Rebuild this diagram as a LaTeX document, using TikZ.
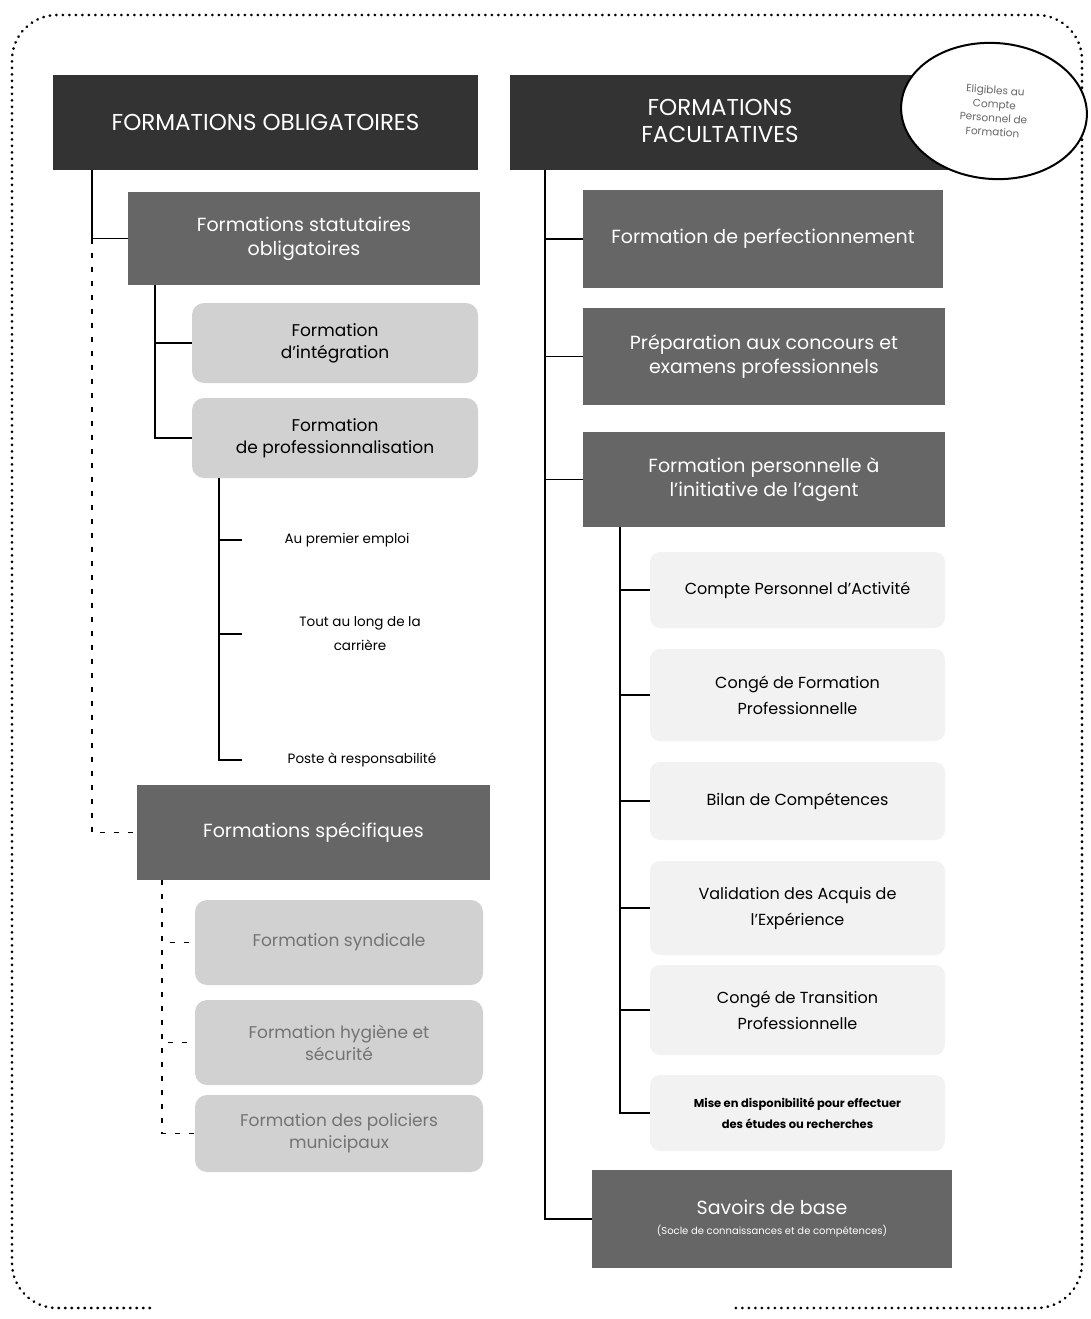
\documentclass[tikz,border=0pt]{standalone}
\usepackage{fontspec}
\setmainfont{Poppins}
\usetikzlibrary{shapes.geometric}
\definecolor{hdrgray}{gray}{0.2}
\definecolor{midgray}{gray}{0.4}
\definecolor{litegray}{gray}{0.82}
\definecolor{faintgray}{gray}{0.95}
\begin{document}
\begin{tikzpicture}[x=1pt,y=-1pt,
  hdr/.style={fill=hdrgray, text=white, align=center, inner sep=0pt, font=\fontsize{23}{27}\selectfont},
  mid/.style={fill=midgray, text=white, align=center, inner sep=0pt, font=\fontsize{19}{24}\selectfont},
  lite/.style={fill=litegray, rounded corners=12pt, align=center, inner sep=0pt, font=\fontsize{17}{22}\selectfont},
  faint/.style={fill=faintgray, rounded corners=10pt, align=center, inner sep=0pt, font=\fontsize{16}{26}\selectfont},
  item/.style={align=center, inner sep=0pt, font=\fontsize{13.5}{24}\selectfont},
  conn/.style={line width=1.8pt},
  dconn/.style={line width=1.6pt, dash pattern=on 5pt off 9pt}]
\useasboundingbox (0,0) rectangle (1091,1319);
% outer dotted frame
\draw[line width=2.6pt, line cap=round, dash pattern=on 0.5pt off 6pt, rounded corners=45pt]
  (150,1308) -- (12,1308) -- (12,15) -- (1082,15) -- (1082,1308) -- (730,1308);

% headers
\node[hdr, minimum width=425pt, minimum height=95pt] (hL) at (265.5,122.5) {FORMATIONS OBLIGATOIRES};
\node[hdr, minimum width=530pt, minimum height=95pt] (hR) at (775,122.5) {};
\node[hdr, text=white] (hRt) at (720,121) {FORMATIONS\\FACULTATIVES};
\node[ellipse, draw, fill=white, line width=2pt, minimum width=186pt, minimum height=136pt,
  inner sep=0pt, rotate=-4, align=center, text=black!60, font=\fontsize{10.5}{14}\selectfont] (elig) at (994,111)
  {Eligibles au\\Compte\\Personnel de\\Formation};

% left column
\node[mid, minimum width=352pt, minimum height=93pt] (stat) at (304,238.5) {Formations statutaires\\obligatoires};
\node[lite, minimum width=286pt, minimum height=80pt] (integ) at (335,343) {Formation\\d’intégration};
\node[lite, minimum width=286pt, minimum height=80pt] (prof) at (335,438) {Formation\\de professionnalisation};
\node[item] (ape) at (347,540) {Au premier emploi};
\node[item] (tlc) at (360,634) {Tout au long de la\\carrière};
\node[item] (par) at (362,760) {Poste à responsabilité};
\node[mid, minimum width=353pt, minimum height=95pt] (spec) at (313.5,832.5) {Formations spécifiques};
\node[lite, text=black!55, minimum width=288pt, minimum height=85pt] (synd) at (339,942.5) {Formation syndicale};
\node[lite, text=black!55, minimum width=288pt, minimum height=85pt] (hyg) at (339,1042.5) {Formation hygiène et\\sécurité};
\node[lite, text=black!55, minimum width=288pt, minimum height=77pt] (pol) at (339,1133.5) {Formation des policiers\\municipaux};

% right column
\node[mid, minimum width=360pt, minimum height=98pt] (perf) at (763,239) {Formation de perfectionnement};
\node[mid, minimum width=362pt, minimum height=97pt] (prep) at (764,356.5) {Préparation aux concours et\\examens professionnels};
\node[mid, minimum width=362pt, minimum height=95pt] (pers) at (764,479.5) {Formation personnelle à\\l’initiative de l’agent};
\node[faint, minimum width=295pt, minimum height=76pt] (cpa) at (797.5,590) {Compte Personnel d’Activité};
\node[faint, minimum width=295pt, minimum height=92pt] (cfp) at (797.5,695) {Congé de Formation\\Professionnelle};
\node[faint, minimum width=295pt, minimum height=78pt] (bil) at (797.5,801) {Bilan de Compétences};
\node[faint, minimum width=295pt, minimum height=94pt] (vae) at (797.5,908) {Validation des Acquis de\\l’Expérience};
\node[faint, minimum width=295pt, minimum height=90pt] (ctp) at (797.5,1010) {Congé de Transition\\Professionnelle};
\node[faint, minimum width=295pt, minimum height=76pt, font=\fontsize{11.5}{21}\selectfont\bfseries] (mise) at (797.5,1113) {Mise en disponibilité pour effectuer\\des études ou recherches};
\node[mid, minimum width=360pt, minimum height=98pt, font=\fontsize{19}{22}\selectfont] (sav) at (772,1219)
  {Savoirs de base\\[-2pt]{\fontsize{10}{12}\selectfont (Socle de connaissances et de compétences)}};

% connector coordinates
\coordinate (lx) at (92,0);
\coordinate (sx) at (155,0);
\coordinate (px) at (219,0);
\coordinate (pe) at (242,0);
\coordinate (qx) at (162,0);
\coordinate (rx) at (545,0);
\coordinate (tx) at (620,0);

% left connectors
\draw[conn] (hL.south -| lx) |- (stat.west);
\draw[dconn] (stat.west -| lx) |- (spec.west);
\draw[conn] (stat.south -| sx) |- (integ.west);
\draw[conn] (stat.south -| sx) |- (prof.west);
\draw[conn] (prof.south -| px) |- (ape.west -| pe);
\draw[conn] (prof.south -| px) |- (tlc.west -| pe);
\draw[conn] (prof.south -| px) |- (par.west -| pe);
\draw[dconn] (spec.south -| qx) |- (synd.west);
\draw[dconn] (spec.south -| qx) |- (hyg.west);
\draw[dconn] (spec.south -| qx) |- (pol.west);

% right connectors
\draw[conn] (hR.south -| rx) |- (perf.west);
\draw[conn] (hR.south -| rx) |- (prep.west);
\draw[conn] (hR.south -| rx) |- (pers.west);
\draw[conn] (hR.south -| rx) |- (sav.west);
\draw[conn] (pers.south -| tx) |- (cpa.west);
\draw[conn] (pers.south -| tx) |- (cfp.west);
\draw[conn] (pers.south -| tx) |- (bil.west);
\draw[conn] (pers.south -| tx) |- (vae.west);
\draw[conn] (pers.south -| tx) |- (ctp.west);
\draw[conn] (pers.south -| tx) |- (mise.west);
\end{tikzpicture}
\end{document}
